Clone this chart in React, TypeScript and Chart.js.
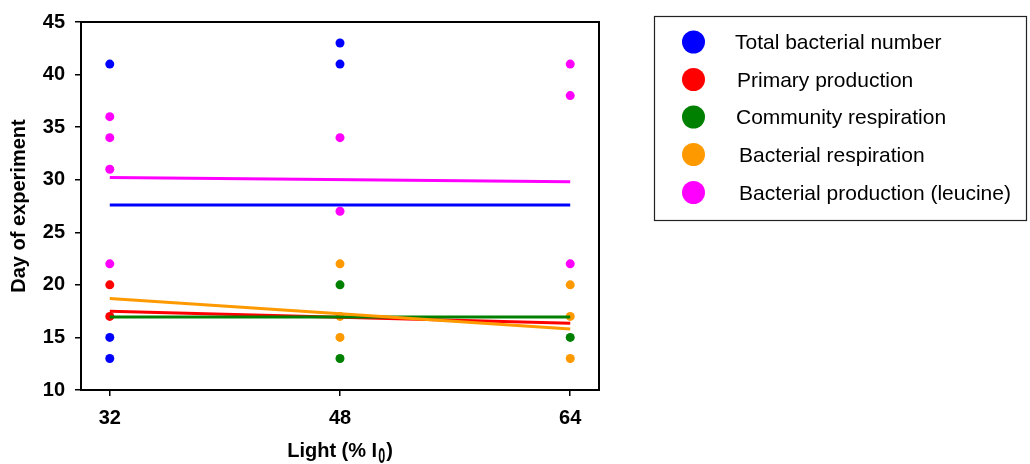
import React, { useEffect, useRef } from 'react';
import { Chart, registerables } from 'chart.js';

Chart.register(...registerables);

// ---------- data ----------
const seriesNames = [
  'Total bacterial number',
  'Primary production',
  'Community respiration',
  'Bacterial respiration',
  'Bacterial production (leucine)',
];
const seriesColors = ['#0000ff', '#ff0000', '#008000', '#ff9900', '#ff00ff'];

const xTickValues = [32, 48, 64];

const totalBactX = [32, 32, 32, 48, 48];
const totalBactY = [41, 15, 13, 43, 41];
const primProdX = [32, 32];
const primProdY = [20, 17];
const commRespX = [48, 48, 64];
const commRespY = [20, 13, 15];
const bactRespX = [48, 48, 48, 64, 64, 64];
const bactRespY = [22, 17, 15, 20, 17, 13];
const bactProdX = [32, 32, 32, 32, 48, 48, 64, 64, 64];
const bactProdY = [36, 34, 31, 22, 34, 27, 41, 38, 22];

// regression line end points at x = 32 and x = 64
const fitX = [32, 64];
const totalBactFit = [27.6, 27.6];
const primProdFit = [17.5, 16.35];
const commRespFit = [16.95, 16.95];
const bactRespFit = [18.7, 15.8];
const bactProdFit = [30.2, 29.8];

const xTitleMain = 'Light (% I';
const xTitleSub = '0';
const xTitleEnd = ')';
const yTitle = 'Day of experiment';

const FONT = "'Liberation Sans', Arial, sans-serif";

const toPts = (xs: number[], ys: number[]) => xs.map((x, i) => ({ x, y: ys[i] }));

const decorPlugin = {
  id: 'decor',
  afterDraw(chart: any) {
    const ctx = chart.ctx as CanvasRenderingContext2D;
    const a = chart.chartArea;
    ctx.save();
    // plot box
    ctx.strokeStyle = '#000';
    ctx.lineWidth = 2;
    ctx.strokeRect(a.left, a.top, a.right - a.left, a.bottom - a.top);

    // y title
    ctx.fillStyle = '#000';
    ctx.font = `bold 20px ${FONT}`;
    ctx.textAlign = 'center';
    ctx.textBaseline = 'middle';
    ctx.save();
    ctx.translate(19.5, (a.top + a.bottom) / 2);
    ctx.rotate(-Math.PI / 2);
    ctx.fillText(yTitle, 0, 0);
    ctx.restore();

    // x title with subscript
    ctx.textAlign = 'left';
    ctx.textBaseline = 'alphabetic';
    ctx.font = `bold 20px ${FONT}`;
    const w1 = ctx.measureText(xTitleMain).width;
    const w3 = ctx.measureText(xTitleEnd).width;
    ctx.font = `bold 14px ${FONT}`;
    const w2 = ctx.measureText(xTitleSub).width * 0.9;
    const total = w1 + w2 + w3 + 2;
    const cx = (a.left + a.right) / 2;
    let x = cx - total / 2;
    const base = 457;
    ctx.font = `bold 20px ${FONT}`;
    ctx.fillText(xTitleMain, x, base);
    x += w1 + 1;
    ctx.save();
    ctx.font = `bold 14px ${FONT}`;
    ctx.translate(x, base + 6);
    ctx.scale(0.9, 1.55);
    ctx.fillText(xTitleSub, 0, 0);
    ctx.restore();
    x += w2 + 1;
    ctx.font = `bold 20px ${FONT}`;
    ctx.fillText(xTitleEnd, x, base);

    // legend
    ctx.lineWidth = 1.2;
    ctx.strokeStyle = '#222';
    ctx.strokeRect(654.5, 16.5, 372, 204);
    const rowY = [42, 79.5, 117, 154.5, 192.5];
    const textX = [735, 737, 736, 739, 739];
    ctx.font = `21px ${FONT}`;
    ctx.textBaseline = 'middle';
    seriesNames.forEach((name, i) => {
      ctx.fillStyle = seriesColors[i];
      ctx.beginPath();
      ctx.arc(693.5, rowY[i], 11.5, 0, Math.PI * 2);
      ctx.fill();
      ctx.fillStyle = '#000';
      ctx.fillText(name, textX[i], rowY[i] + 1.5);
    });
    ctx.restore();
  },
};

export default function App() {
  const ref = useRef<HTMLCanvasElement | null>(null);
  useEffect(() => {
    if (!ref.current) return;
    const pts = [
      toPts(totalBactX, totalBactY),
      toPts(primProdX, primProdY),
      toPts(commRespX, commRespY),
      toPts(bactRespX, bactRespY),
      toPts(bactProdX, bactProdY),
    ];
    const fits = [totalBactFit, primProdFit, commRespFit, bactRespFit, bactProdFit];
    const lineOrder = [3, 2, 1, 4, 0];
    const lineSets = lineOrder.map((i) => ({
      type: 'line' as const,
      label: seriesNames[i] + ' fit',
      data: toPts(fitX, fits[i]),
      borderColor: seriesColors[i],
      backgroundColor: seriesColors[i],
      borderWidth: 3,
      pointRadius: 0,
      showLine: true,
      fill: false,
      order: 0,
    }));
    const scatterSets = pts.map((p, i) => ({
      type: 'scatter' as const,
      label: seriesNames[i],
      data: p,
      backgroundColor: seriesColors[i],
      borderWidth: 0,
      pointRadius: 4.5,
      showLine: false,
      order: 1,
    }));
    const chart = new Chart(ref.current, {
      type: 'scatter',
      data: { datasets: [...lineSets, ...scatterSets] as any },
      options: {
        responsive: false,
        animation: false,
        events: [],
        layout: { padding: { left: 0, top: 16, right: 431, bottom: 0 } },
        plugins: { legend: { display: false }, tooltip: { enabled: false } },
        scales: {
          x: {
            type: 'linear',
            min: 30,
            max: 66,
            afterBuildTicks: (axis: any) => {
              axis.ticks = xTickValues.map((v) => ({ value: v }));
            },
            afterFit: (scale: any) => {
              scale.height = 74;
            },
            border: { display: false },
            grid: {
              display: true,
              drawOnChartArea: false,
              drawTicks: true,
              tickLength: 6,
              color: '#000',
              lineWidth: 1.5,
            },
            ticks: {
              color: '#000',
              padding: 10,
              maxRotation: 0,
              font: { family: FONT, size: 20, weight: 'bold' },
            },
          },
          y: {
            type: 'linear',
            min: 10,
            max: 45,
            afterFit: (scale: any) => {
              scale.width = 81;
            },
            border: { display: false },
            grid: {
              display: true,
              drawOnChartArea: false,
              drawTicks: true,
              tickLength: 6,
              color: '#000',
              lineWidth: 1.5,
            },
            ticks: {
              stepSize: 5,
              color: '#000',
              padding: 10,
              font: { family: FONT, size: 20, weight: 'bold' },
            },
          },
        },
      },
      plugins: [decorPlugin],
    });
    return () => chart.destroy();
  }, []);
  return (
    <div style={{ position: 'absolute', left: 0, top: 0, width: 1030, height: 464, background: '#fff' }}>
      <canvas ref={ref} width={1030} height={464} style={{ display: 'block' }} />
    </div>
  );
}
